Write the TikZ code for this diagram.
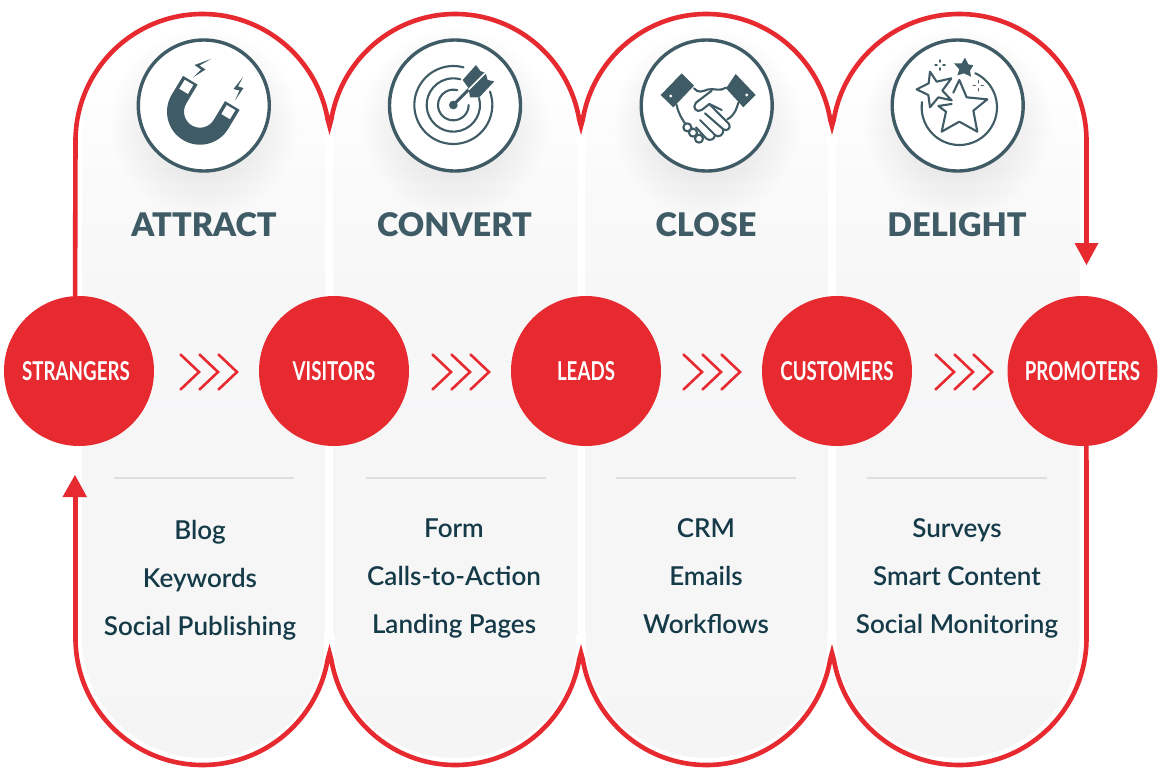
\documentclass[tikz,border=0pt]{standalone}
\usepackage{fontspec}
\usetikzlibrary{fadings,arrows.meta}
\setmainfont{Lato}
\newfontfamily\headf{Lato}[UprightFont=* Black,BoldFont=* Black]
\newfontfamily\itemf{Lato}[UprightFont=* Semibold]
\newfontfamily\circf{Lato}[FakeStretch=0.72]
\definecolor{myred}{HTML}{E62A30}
\definecolor{slate}{HTML}{3F5B65}
\definecolor{itemc}{HTML}{153A48}
\definecolor{rulec}{HTML}{DEDEDE}
\pgfdeclarelayer{under}
\pgfsetlayers{under,main}
\pgfdeclareverticalshading{panelsh}{100bp}{rgb(0bp)=(0.962,0.962,0.966); rgb(25bp)=(0.962,0.962,0.966); rgb(56bp)=(0.968,0.968,0.972); rgb(63bp)=(0.977,0.977,0.98); rgb(71.7bp)=(1,1,1); rgb(100bp)=(1,1,1)}
\tikzfading[name=softshadow,inner color=transparent!86,outer color=transparent!100]
\tikzset{
  x=1pt,y=1pt,
  stagecirc/.style={circle,fill=myred,minimum size=150pt,inner sep=0pt,text=white,font=\circf\bfseries\fontsize{26}{26}\selectfont},
  heading/.style={text=slate,font=\headf\fontsize{32.5}{32}\selectfont,inner sep=0pt},
  itemtext/.style={text=itemc,font=\itemf\fontsize{26}{26}\selectfont,inner sep=0pt,anchor=base},
  redline/.style={draw=myred,line width=4.6pt},
  rulel/.style={draw=rulec,line width=1.8pt},
  chev/.style={draw=myred,line width=2.6pt,line cap=round,line join=miter},
  iconring/.style={circle,draw=slate,line width=3.4pt,fill=white,minimum size=131pt,inner sep=0pt},
  iconln/.style={draw=slate,line width=2.1pt,line cap=round,line join=round},
  panel/.style={shading=panelsh},
}
\newcommand{\panelat}[2]{% left, right
  \pgfmathsetmacro{\pr}{(#2-#1)/2}
  \path[panel] (#1,141) arc[start angle=180,end angle=360,x radius=\pr,y radius=120] -- (#2,638) arc[start angle=0,end angle=180,x radius=\pr,y radius=120] -- cycle;
}
\newcommand{\chevrons}[1]{%
  \foreach \d in {0,19,38}{\draw[chev] ({#1+\d},354.5) -- ({#1+\d+18.5},372) -- ({#1+\d},389.5);}
}
\newcommand{\cusp}[1]{%
  \fill[white] ({#1-5.2},119) rectangle ({#1+5.2},145);
  \fill[myred] ({#1-4.3},119) -- ({#1+4.3},119) -- (#1,135) -- cycle;
  \fill[white] ({#1-5.2},634) rectangle ({#1+5.2},660);
  \fill[myred] ({#1-4.3},660) -- ({#1+4.3},660) -- (#1,644) -- cycle;
}
\begin{document}
\begin{tikzpicture}[yscale=-1]
\useasboundingbox (0,0) rectangle (1160,780);
% stage circles
\node[stagecirc] (strangers) at (79,371) {STRANGERS\kern6pt};
\node[stagecirc] (visitors) at (334,371) {VISITORS};
\node[stagecirc] (leads) at (586,371) {LEADS};
\node[stagecirc] (customers) at (837,371) {CUSTOMERS};
\node[stagecirc] (promoters) at (1082.5,371) {PROMOTERS};
\coordinate (downtip) at (1086.5,265);
\coordinate (uptip) at (75,475);
\begin{pgfonlayer}{under}
\fill[white] (0,0) rectangle (1160,780);
\panelat{82}{325}
\panelat{333}{577.5}
\panelat{585}{828}
\panelat{836}{1079.5}
% top and bottom red outlines
\draw[redline] (strangers.93) -- (75.5,141)
  arc[start angle=180,end angle=360,x radius=127,y radius=127]
  arc[start angle=180,end angle=360,x radius=125.75,y radius=127]
  arc[start angle=180,end angle=360,x radius=125.5,y radius=127]
  arc[start angle=180,end angle=360,x radius=127.25,y radius=127] -- (1086.5,245);
\draw[redline] (promoters.273) -- (1086.5,638)
  arc[start angle=0,end angle=180,x radius=127.25,y radius=127]
  arc[start angle=0,end angle=180,x radius=125.5,y radius=127]
  arc[start angle=0,end angle=180,x radius=125.75,y radius=127]
  arc[start angle=0,end angle=180,x radius=127,y radius=127] -- (75.5,495);
\cusp{329.5}\cusp{581}\cusp{832}
\end{pgfonlayer}
\fill[myred] (downtip) -- (1074.5,243) -- (1098.5,243) -- cycle;
\fill[myred] (uptip) -- (62.5,497) -- (87,497) -- cycle;
% chevrons
\chevrons{180.5}\chevrons{432.5}\chevrons{683.5}\chevrons{935.5}
% icon shadows and rings
\foreach \cx/\nm in {203.8/ringa,455/ringb,706.7/ringc,957.7/ringd}{
  \fill[black,path fading=softshadow] (\cx,122) circle (95);
  \node[iconring] (\nm) at (\cx,105.5) {};
}
% magnet
\begin{scope}[shift={(200,111.7)},rotate=31]
\fill[slate,even odd rule] (-33,-22) -- (-33,0) arc[start angle=180,end angle=0,radius=33] -- (33,-22) -- (16,-22) -- (16,0) arc[start angle=0,end angle=180,radius=16] -- (-16,-22) -- cycle;
\fill[white] (-29.5,-19.5) rectangle (-19.5,-9) (19.5,-19.5) rectangle (29.5,-9);
\end{scope}
\fill[slate] (211,59) -- (194.5,65) -- (201,69.5) -- (193,77.5) -- (205.5,69.5) -- (199.5,65.5) -- cycle;
\fill[slate] (243,77) -- (233.5,89) -- (239.5,90.5) -- (235,100.5) -- (243.5,88) -- (238,86.5) -- cycle;
% target
\begin{scope}[shift={(370,20)},scale=1/3]
\draw[iconln] (250,255) ++(-20:117) arc[start angle=-20,end angle=285,radius=117];
\draw[iconln] (250,255) ++(-15:80) arc[start angle=-15,end angle=285,radius=80];
\draw[iconln] (250,255) ++(0:46) arc[start angle=0,end angle=285,radius=46];
\fill[slate] (250,255) circle (13);
\draw[white,line width=7pt] (250,255)++(16,-16) -- (300,205);
\draw[slate,line width=3pt,line cap=round] (250,255) -- (302,203);
\fill[slate] (278,180) -- (318,135) -- (331,153) -- (347,159) -- (353,180) -- (373,184) -- (328,232) -- (300,232) -- (296,205) -- cycle;
\draw[white,line width=1.6pt] (296,209) -- (347,158);
\end{scope}
% handshake
\begin{scope}[shift={(620,20)},scale=1/3]
\fill[slate] (185,160) -- (222,197) -- (160,262) -- (122,225) -- cycle;
\fill[slate] (347,162) -- (407,225) -- (370,262) -- (318,205) -- cycle;
\fill[white] (152,228) circle (5) (380,225) circle (5);
\draw[iconln] (222,205) .. controls (235,220) and (245,215) .. (265,208) .. controls (285,205) and (300,215) .. (318,203);
\draw[iconln] (355,248) .. controls (350,265) and (345,285) .. (322,298);
\draw[iconln] (275,212) -- (228,248) .. controls (215,262) and (230,280) .. (245,270) -- (268,252) -- (305,270);
\draw[iconln] (268,252) -- (327,312) .. controls (335,325) and (320,335) .. (310,328) -- (255,280);
\draw[iconln] (310,328) .. controls (312,345) and (295,355) .. (285,345) -- (240,300);
\draw[iconln] (285,345) .. controls (285,358) and (268,365) .. (258,355) -- (228,322);
\draw[iconln] (170,255) .. controls (175,280) and (185,295) .. (195,310);
\draw[iconln] (202,322) circle (12) (219,338) circle (12) (237,356) circle (12);
\end{scope}
% stars
\begin{scope}[shift={(870,20)},scale=1/3]
\fill[slate] (285,113) -- (295,133) -- (310,136) -- (300,152) -- (303,170) -- (282,160) -- (262,166) -- (268,148) -- (252,130) -- (275,130) -- cycle;
\draw[iconln] (180,155) -- (200,185) -- (244,175) -- (217,212) -- (245,241) -- (205,232) -- (180,262) -- (175,225) -- (140,208) -- (176,190) -- cycle;
\draw[iconln] (250,218) -- (268,180) -- (290,232) -- (352,238) -- (310,272) -- (322,335) -- (268,305) -- (215,335) -- (228,275) -- (205,258) -- (245,252);
\draw[iconln] (268,262) ++(-65:113) arc[start angle=-65,end angle=188,radius=113];
\foreach \sx/\sy in {210/135,325/197}{
  \draw[slate,line width=1.5pt,line cap=round] (\sx-15,\sy) -- (\sx-9,\sy) (\sx+9,\sy) -- (\sx+15,\sy) (\sx,\sy-15) -- (\sx,\sy-9) (\sx,\sy+9) -- (\sx,\sy+15);
}
\end{scope}
% headings
\node[heading] (h1) at (204,224.5) {ATTRACT};
\node[heading] (h2) at (454.5,224.5) {CONVERT};
\node[heading] (h3) at (706,224.5) {CLOSE};
\node[heading] (h4) at (957,224.5) {DELIGHT};
% dividers
\draw[rulel] (114,478) -- (294,478);
\draw[rulel] (366,478) -- (546,478);
\draw[rulel] (616,478) -- (796,478);
\draw[rulel] (867,478) -- (1047,478);
% items
\node[itemtext] (a1) at (200,539.5) {Blog};
\node[itemtext] (a2) at (200,587.5) {Keywords};
\node[itemtext] (a3) at (200,635.5) {Social Publishing};
\node[itemtext] (b1) at (454,537.5) {Form};
\node[itemtext] (b2) at (454,585.5) {Calls-to-Action};
\node[itemtext] (b3) at (454,633.5) {Landing Pages};
\node[itemtext] (c1) at (706,537.5) {CRM};
\node[itemtext] (c2) at (706,585.5) {Emails};
\node[itemtext] (c3) at (706,633.5) {Workflows};
\node[itemtext] (d1) at (957,537.5) {Surveys};
\node[itemtext] (d2) at (957,585.5) {Smart Content};
\node[itemtext] (d3) at (957,633.5) {Social Monitoring};
\end{tikzpicture}
\end{document}
